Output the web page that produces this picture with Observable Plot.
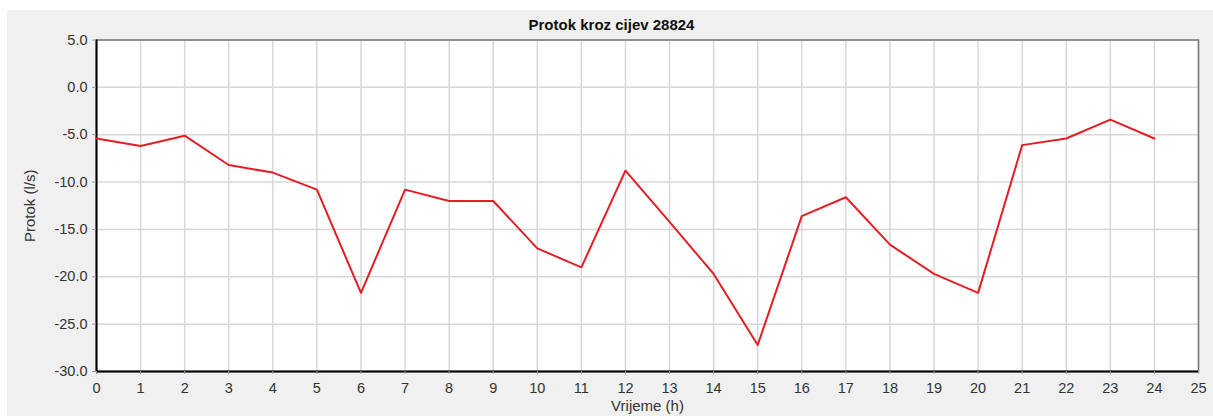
<!DOCTYPE html>
<html><head><meta charset="utf-8">
<script src="https://cdn.jsdelivr.net/npm/d3@7"></script>
<script src="https://cdn.jsdelivr.net/npm/@observablehq/plot@0.6"></script>
<style>
html,body{margin:0;padding:0;background:#fff;}
#wrap{position:relative;width:1213px;height:416px;overflow:hidden;}
#bg{position:absolute;left:7px;top:10px;width:1206px;height:406px;background:#f0f0f0;}
#title{position:absolute;left:0;width:1223px;top:16px;line-height:17px;text-align:center;font:bold 15px "Liberation Sans",Arial,sans-serif;color:#111;}
#chart{position:absolute;left:0;top:0;}
</style></head><body>
<div id="wrap"><div id="bg"></div><div id="title">Protok kroz cijev 28824</div><div id="chart"></div></div>
<script>
const hours = [0,1,2,3,4,5,6,7,8,9,10,11,12,13,14,15,16,17,18,19,20,21,22,23,24];
const flow = [-5.4,-6.2,-5.1,-8.2,-9.0,-10.8,-21.7,-10.8,-12.0,-12.0,-17.0,-19.0,-8.8,-14.2,-19.7,-27.2,-13.6,-11.6,-16.6,-19.7,-21.7,-6.1,-5.4,-3.4,-5.4];
const xTicks = [0,1,2,3,4,5,6,7,8,9,10,11,12,13,14,15,16,17,18,19,20,21,22,23,24,25];
const yTicks = [5,0,-5,-10,-15,-20,-25,-30];
const title = "Protok kroz cijev 28824";
const xLabel = "Vrijeme (h)";
const yLabel = "Protok (l/s)";

document.getElementById("title").textContent = title;
const data = hours.map((h, i) => ({h, v: flow[i]}));
const font = '"Liberation Sans", Arial, sans-serif';

const chart = Plot.plot({
  width: 1213, height: 416,
  marginLeft: 96, marginRight: 15, marginTop: 39.5, marginBottom: 45,
  style: {background: "transparent", fontFamily: font, fontSize: "14.5px", color: "#333"},
  x: {domain: [0, 25]},
  y: {domain: [-30, 5]},
  marks: [
    Plot.frame({fill: "#fff", stroke: null}),
    Plot.ruleX(xTicks, {stroke: "#d8d8d8", strokeWidth: 1.5}),
    Plot.ruleY(yTicks, {stroke: "#d8d8d8", strokeWidth: 1.5}),
    Plot.frame({stroke: "#777", strokeWidth: 1.5}),
    Plot.ruleX([0], {stroke: "#000", strokeWidth: 2}),
    Plot.ruleY([-30], {stroke: "#000", strokeWidth: 2}),
    Plot.axisX(xTicks, {tickSize: 3, tickPadding: 8, tickFormat: d => String(d), label: null, stroke: "#999", fill: "#333"}),
    Plot.axisY(yTicks, {tickSize: 4, tickPadding: 5, tickFormat: d => d.toFixed(1), label: null, stroke: "#999", fill: "#333"}),
    Plot.line(data, {x: "h", y: "v", stroke: "#e31e24", strokeWidth: 2}),
    Plot.text([yLabel], {frameAnchor: "left", dx: -66, rotate: -90, fontSize: 15, lineAnchor: "middle", textAnchor: "middle", fill: "#333"}),
    Plot.text([xLabel], {frameAnchor: "bottom", dy: 35, fontSize: 15, lineAnchor: "middle", textAnchor: "middle", fill: "#333"})
  ]
});
document.getElementById("chart").appendChild(chart);
</script>
</body></html>
